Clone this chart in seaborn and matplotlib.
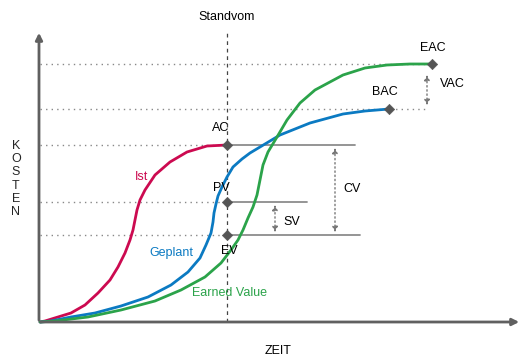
import numpy as np
import pandas as pd
import seaborn as sns
import matplotlib.pyplot as plt

# curve points (time, cost)
ist_x = [1, 6, 19, 32, 46, 59, 71, 79, 86, 91, 94, 96, 98, 101, 106, 116, 131, 148, 168, 188]
ist_y = [0, 1, 5, 9, 17, 29, 42, 55, 69, 82, 92, 102, 112, 122, 132, 147, 160, 170, 176, 177]

plan_x = [1, 12, 32, 56, 82, 109, 132, 149, 161, 167, 172, 174, 175, 177, 179, 183, 188, 194, 203, 211, 226, 241, 271, 304, 326, 350]
plan_y = [0, 1, 5, 9, 16, 25, 37, 50, 64, 77, 89, 100, 109, 118, 126, 135, 145, 155, 163, 169, 178, 187, 199, 208, 211, 213]

ev_x = [1, 16, 49, 82, 116, 142, 166, 182, 192, 199, 204, 209, 214, 218, 221, 224, 229, 238, 248, 261, 276, 304, 326, 348, 371, 393]
ev_y = [0, 1, 5, 12, 21, 32, 45, 59, 72, 82, 92, 104, 115, 127, 142, 157, 170, 185, 202, 219, 232, 247, 254, 257, 258, 258]

# key points
t_now = 188
ac, pv, ev = 177, 120, 87
bac_x, bac = 350, 213
eac_x, eac = 393, 258

red = '#cc0a50'
blue = '#0b7ac2'
green = '#2ba34a'
dark = '#555555'

sns.set_style('white')
plt.rcParams['font.family'] = ['Liberation Sans', 'DejaVu Sans']

fig = plt.figure(figsize=(5.32, 3.61), dpi=100)
ax = fig.add_axes([0, 0, 1, 1])
ax.set_xlim(-39, 493)
ax.set_ylim(-39, 322)
ax.set_axis_off()

# reference lines
dot = dict(color='#888888', lw=1, ls=(0, (1, 3)))
ax.plot([1, eac_x], [eac, eac], **dot)
ax.plot([1, 388], [bac, bac], **dot)
for lvl in (ac, pv, ev):
    ax.plot([1, t_now], [lvl, lvl], **dot)
ax.plot([t_now, 316], [ac, ac], color='#8c8c8c', lw=1.3)
ax.plot([t_now, 268], [pv, pv], color='#8c8c8c', lw=1.3)
ax.plot([t_now, 321], [ev, ev], color='#8c8c8c', lw=1.3)
ax.plot([t_now, t_now], [0, 290], color='#444444', lw=0.9, ls=(0, (3, 3)))

# curves
df = pd.concat([
    pd.DataFrame({'x': ist_x, 'y': ist_y, 'k': 'Ist'}),
    pd.DataFrame({'x': plan_x, 'y': plan_y, 'k': 'Geplant'}),
    pd.DataFrame({'x': ev_x, 'y': ev_y, 'k': 'Earned Value'}),
])
sns.lineplot(data=df, x='x', y='y', hue='k', sort=False, estimator=None,
             palette={'Ist': red, 'Geplant': blue, 'Earned Value': green},
             lw=2, legend=False, ax=ax, solid_joinstyle='round', solid_capstyle='round')

# axes with arrows
ax.annotate('', xy=(0, 292), xytext=(0, -1),
            arrowprops=dict(arrowstyle='-|>', color='#606060', lw=2, mutation_scale=10))
ax.annotate('', xy=(483, 0), xytext=(-1, 0),
            arrowprops=dict(arrowstyle='-|>', color='#606060', lw=2, mutation_scale=10))

# markers
pts = pd.DataFrame({'x': [t_now, t_now, t_now, bac_x, eac_x], 'y': [ac, pv, ev, bac, eac]})
sns.scatterplot(data=pts, x='x', y='y', marker='D', s=28, color=dark, edgecolor=dark, ax=ax, zorder=5)

# variance arrows
varr = dict(arrowstyle='<|-|>', color='#777777', lw=1, ls=(0, (1, 2)), mutation_scale=8)
ax.annotate('', xy=(236, pv), xytext=(236, ev), arrowprops=varr)
ax.annotate('', xy=(296, ac), xytext=(296, ev), arrowprops=varr)
ax.annotate('', xy=(388, 250), xytext=(388, 214), arrowprops=varr)

# labels
fs = 9
txt = dict(fontsize=fs, ha='center', va='center', color='black')
ax.text(t_now, 305, 'Standvom', **txt)
ax.text(182, 194, 'AC', **txt)
ax.text(182, 134, 'PV', **txt)
ax.text(190, 71, 'EV', **txt)
ax.text(346, 230, 'BAC', **txt)
ax.text(394, 274, 'EAC', **txt)
ax.text(413, 238, 'VAC', **txt)
ax.text(313, 133, 'CV', **txt)
ax.text(253, 100, 'SV', **txt)
ax.text(239, -29, 'ZEIT', **txt)
ax.text(-23, 143, '\n'.join('KOSTEN'), fontsize=fs, ha='center', va='center', linespacing=1.12)
ax.text(103, 145, 'Ist', fontsize=fs, ha='center', va='center', color=red)
ax.text(132, 69, 'Geplant', fontsize=fs, ha='center', va='center', color=blue)
ax.text(190, 29, 'Earned Value', fontsize=fs, ha='center', va='center', color=green)

fig.savefig('out.png', dpi=100)
